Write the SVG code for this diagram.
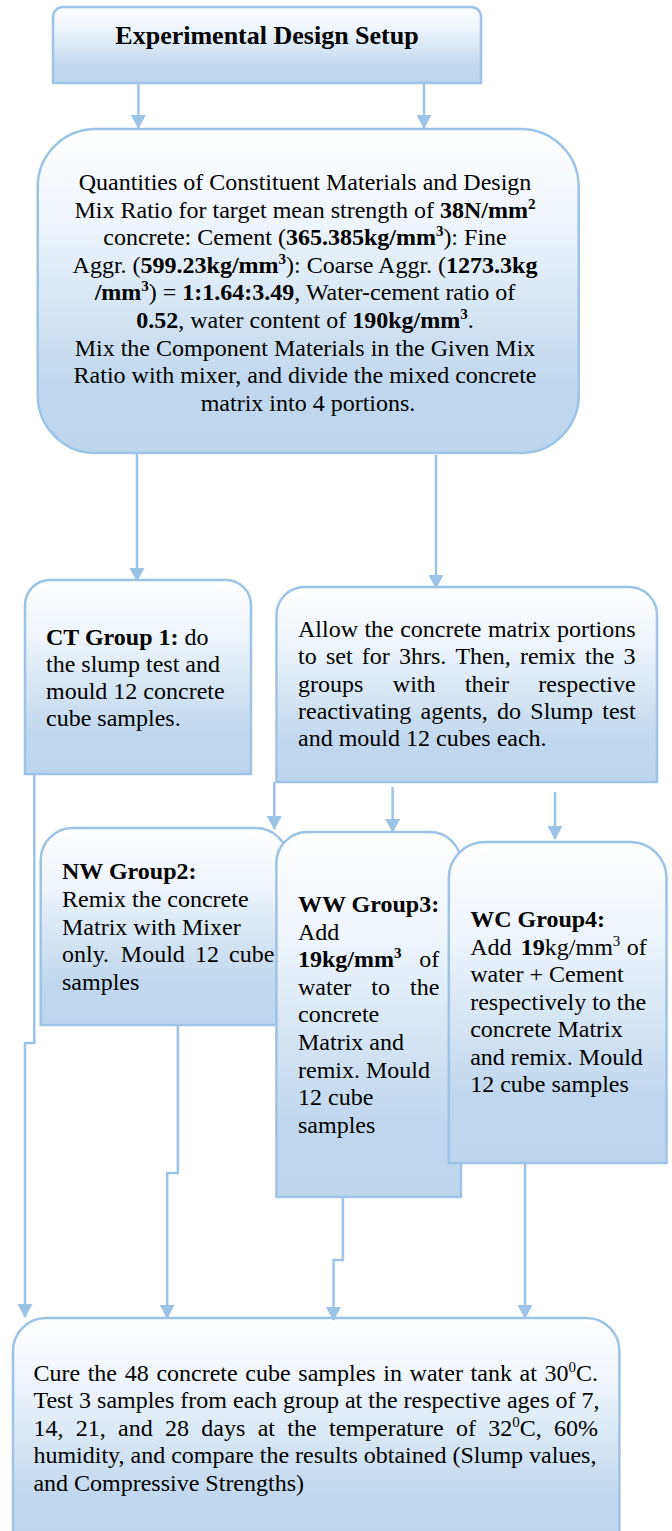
<svg xmlns="http://www.w3.org/2000/svg" width="672" height="1531" viewBox="0 0 672 1531">
<style>
.box{stroke:#9dc3e6;stroke-width:2.5;fill:url(#g)}
.t{font-family:"Liberation Serif","Times New Roman",serif;font-size:24px;fill:#000}
.b{font-weight:bold}
.s{font-size:15px}
.c{stroke:#9dc3e6;stroke-width:2.5;fill:none;marker-end:url(#arr)}
</style>
<defs>
<linearGradient id="g" x1="0" y1="0" x2="0" y2="1">
<stop offset="0" stop-color="#ffffff"/>
<stop offset="0.3" stop-color="#eef4fb"/>
<stop offset="0.78" stop-color="#c0d8ef"/>
<stop offset="1" stop-color="#bdd6ee"/>
</linearGradient>
<marker id="arr" viewBox="0 0 14 15" refX="13" refY="7.5" markerWidth="14" markerHeight="15" markerUnits="userSpaceOnUse" orient="auto">
<path d="M0,0 L14,7.5 L0,15 Z" fill="#9dc3e6"/>
</marker>
</defs>

<g id="setup">
<path class="box" d="M53,83 V17 A10,10 0 0 1 63,7 H471 A10,10 0 0 1 481,17 V83 Z"/>
<text class="t b" x="267" y="44" text-anchor="middle" style="font-size:26px">Experimental Design Setup</text>
</g>

<g id="mix">
<rect class="box" x="37.7" y="129" width="541" height="324" rx="58" ry="58"/>
<text class="t" text-anchor="middle">
<tspan x="308" y="190">Quantities of Constituent Materials and Design</tspan>
<tspan x="308" y="217.6">Mix Ratio for target mean strength of <tspan class="b">38N/mm</tspan><tspan class="b s" dy="-9">2</tspan></tspan>
<tspan x="308" y="245.2">concrete: Cement (<tspan class="b">365.385kg/mm</tspan><tspan class="b s" dy="-9">3</tspan><tspan dy="9">): Fine</tspan></tspan>
<tspan x="308" y="272.8">Aggr. (<tspan class="b">599.23kg/mm</tspan><tspan class="b s" dy="-9">3</tspan><tspan dy="9">): Coarse Aggr. (</tspan><tspan class="b">1273.3kg</tspan></tspan>
<tspan x="308" y="300.4"><tspan class="b">/mm</tspan><tspan class="b s" dy="-9">3</tspan><tspan dy="9">) = </tspan><tspan class="b">1:1.64:3.49</tspan>, Water-cement ratio of</tspan>
<tspan x="308" y="328"><tspan class="b">0.52</tspan>, water content of <tspan class="b">190kg/mm</tspan><tspan class="b s" dy="-9">3</tspan><tspan dy="9">.</tspan></tspan>
<tspan x="308" y="355.6">Mix the Component Materials in the Given Mix</tspan>
<tspan x="308" y="383.2">Ratio with mixer, and divide the mixed concrete</tspan>
<tspan x="308" y="410.8">matrix into 4 portions.</tspan>
</text>
</g>

<g id="ct">
<path class="box" d="M25,774 V605 A25,25 0 0 1 50,580 H226 A25,25 0 0 1 251,605 V774 Z"/>
<text class="t">
<tspan x="46" y="645"><tspan class="b">CT Group 1:</tspan> do</tspan>
<tspan x="46" y="672">the slump test and</tspan>
<tspan x="46" y="699">mould 12 concrete</tspan>
<tspan x="46" y="726">cube samples.</tspan>
</text>
</g>

<g id="allow">
<path class="box" d="M276.5,782 V615 A28,28 0 0 1 304.5,587 H629 A28,28 0 0 1 657,615 V782 Z"/>
<text class="t">
<tspan x="298" y="637">Allow</tspan><tspan x="364.4" y="637">the</tspan><tspan x="400.2" y="637">concrete</tspan><tspan x="487.9" y="637">matrix</tspan><tspan x="556.9" y="637">portions</tspan>
<tspan x="298" y="664.3">to</tspan><tspan x="325.9" y="664.3">set</tspan><tspan x="361.7" y="664.3">for</tspan><tspan x="398.9" y="664.3">3hrs.</tspan><tspan x="455.4" y="664.3">Then,</tspan><tspan x="519.9" y="664.3">remix</tspan><tspan x="585.1" y="664.3">the</tspan><tspan x="623.6" y="664.3">3</tspan>
<tspan x="298" y="691.6">groups</tspan><tspan x="392.8" y="691.6">with</tspan><tspan x="464.9" y="691.6">their</tspan><tspan x="538.3" y="691.6">respective</tspan>
<tspan x="298" y="718.9">reactivating</tspan><tspan x="420.5" y="718.9">agents,</tspan><tspan x="497.1" y="718.9">do</tspan><tspan x="530.3" y="718.9">Slump</tspan><tspan x="602.3" y="718.9">test</tspan>
<tspan x="298" y="746.2">and mould 12 cubes each.</tspan>
</text>
</g>

<g id="nw">
<path class="box" d="M40.7,1025 V860 A32,32 0 0 1 72.7,828 H256 A32,32 0 0 1 288,860 V1025 Z"/>
<text class="t">
<tspan x="62" y="879.3" class="b">NW Group2:</tspan>
<tspan x="62" y="907">Remix the concrete</tspan>
<tspan x="62" y="934.6">Matrix with Mixer</tspan>
<tspan x="62" y="962.2">only.</tspan><tspan x="120.8" y="962.2">Mould</tspan><tspan x="194.9" y="962.2">12</tspan><tspan x="229" y="962.2">cube</tspan>
<tspan x="62" y="989.8">samples</tspan>
</text>
</g>

<g id="ww">
<path class="box" d="M276.4,1197 V863 A31,31 0 0 1 307.4,832 H430 A31,31 0 0 1 461,863 V1197 Z"/>
<text class="t">
<tspan x="298" y="912" class="b">WW Group3:</tspan>
<tspan x="298" y="939.6">Add</tspan>
<tspan x="298" y="967.2" class="b">19kg/mm</tspan><tspan class="b s" dy="-9">3</tspan><tspan x="419.3" y="967.2">of</tspan>
<tspan x="298" y="994.8">water</tspan><tspan x="371.3" y="994.8">to</tspan><tspan x="410" y="994.8">the</tspan>
<tspan x="298" y="1022.4">concrete</tspan>
<tspan x="298" y="1050">Matrix and</tspan>
<tspan x="298" y="1077.6">remix. Mould</tspan>
<tspan x="298" y="1105.2">12 cube</tspan>
<tspan x="298" y="1132.8">samples</tspan>
</text>
</g>

<g id="wc">
<path class="box" d="M448.8,1163 V878 A36,36 0 0 1 484.8,842 H630.5 A36,36 0 0 1 666.5,878 V1163 Z"/>
<text class="t">
<tspan x="470.2" y="927" class="b">WC Group4:</tspan>
<tspan x="470.2" y="954.5">Add</tspan><tspan x="520.8" y="954.5" class="b">19</tspan><tspan>kg/mm</tspan><tspan class="s" dy="-9">3</tspan><tspan x="626.7" y="954.5">of</tspan>
<tspan x="470.2" y="982">water + Cement</tspan>
<tspan x="470.2" y="1009.5">respectively to the</tspan>
<tspan x="470.2" y="1037">concrete Matrix</tspan>
<tspan x="470.2" y="1064.5">and remix. Mould</tspan>
<tspan x="470.2" y="1092">12 cube samples</tspan>
</text>
</g>

<g id="cure">
<path class="box" d="M13,1545 V1351 A33,33 0 0 1 46,1318 H586.4 A33,33 0 0 1 619.4,1351 V1545 Z"/>
<text class="t">
<tspan x="33.4" y="1380.5">Cure</tspan><tspan x="87.7" y="1380.5">the</tspan><tspan x="124.7" y="1380.5">48</tspan><tspan x="156.4" y="1380.5">concrete</tspan><tspan x="245.3" y="1380.5">cube</tspan><tspan x="298.3" y="1380.5">samples</tspan><tspan x="383.3" y="1380.5">in</tspan><tspan x="409.6" y="1380.5">water</tspan><tspan x="470.6" y="1380.5">tank</tspan><tspan x="519.6" y="1380.5">at</tspan><tspan x="544.6" y="1380.5">30</tspan><tspan class="s" dy="-9">0</tspan><tspan dy="9">C.</tspan>
<tspan x="33.4" y="1408">Test 3 samples from each group at the respective ages of 7,</tspan>
<tspan x="33.4" y="1435.5">14,</tspan><tspan x="75.7" y="1435.5">21,</tspan><tspan x="118" y="1435.5">and</tspan><tspan x="165" y="1435.5">28</tspan><tspan x="201.3" y="1435.5">days</tspan><tspan x="257.7" y="1435.5">at</tspan><tspan x="287.3" y="1435.5">the</tspan><tspan x="329" y="1435.5">temperature</tspan><tspan x="455.9" y="1435.5">of</tspan><tspan x="488.2" y="1435.5">32</tspan><tspan class="s" dy="-9">0</tspan><tspan dy="9">C,</tspan><tspan x="554" y="1435.5">60%</tspan>
<tspan x="33.4" y="1463">humidity, and compare the results obtained (Slump values,</tspan>
<tspan x="33.4" y="1490.5">and Compressive Strengths)</tspan>
</text>
</g>

<g id="connectors">
<path class="c" d="M138.4,83 V128"/>
<path class="c" d="M424,83 V128"/>
<path class="c" d="M137,453 V581"/>
<path class="c" d="M436,455 V588"/>
<path class="c" d="M34.3,774 V1043 H25 V1317"/>
<path class="c" d="M274.3,782 V829"/>
<path class="c" d="M392.6,787 V832"/>
<path class="c" d="M555,792 V839"/>
<path class="c" d="M177.9,1025 V1173 H167.2 V1318"/>
<path class="c" d="M342.9,1197 V1260 H333.5 V1320"/>
<path class="c" d="M525,1163 V1318"/>
</g>
</svg>
